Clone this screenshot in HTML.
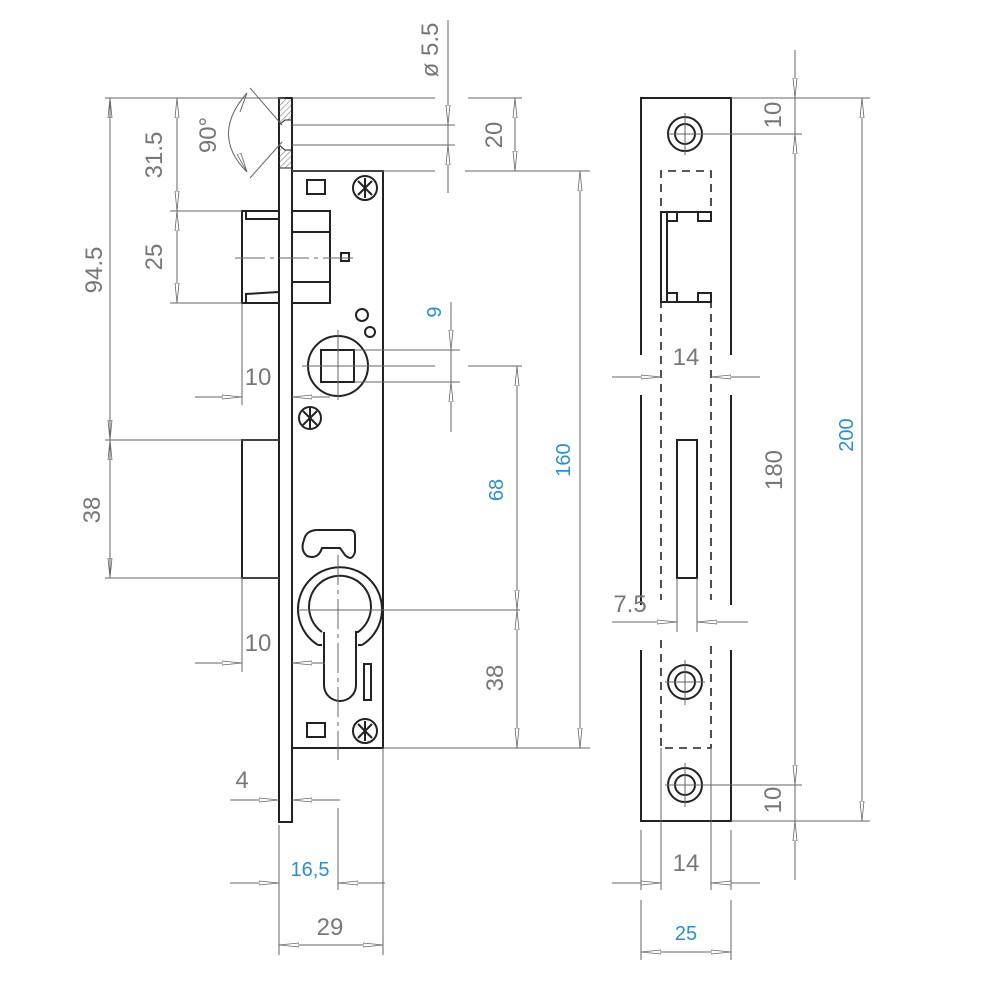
<!DOCTYPE html>
<html><head><meta charset="utf-8"><style>
html,body{margin:0;padding:0;background:#fff}
svg{display:block}
.k{stroke:#222;stroke-width:2;fill:none}
.g{stroke:#666;stroke-width:1;fill:none}
.d{stroke:#222;stroke-width:1.6;fill:none;stroke-dasharray:8 6}
text{font-family:"Liberation Sans",sans-serif;font-size:24px;fill:#777}
.b{fill:#2a8fd0;font-size:20px}
</style></head><body>
<svg width="1000" height="1000" viewBox="0 0 1000 1000" xmlns="http://www.w3.org/2000/svg">
<defs>
<marker id="a" viewBox="0 0 20 6" refX="20" refY="3" markerWidth="20" markerHeight="6" markerUnits="userSpaceOnUse" orient="auto">
<path d="M0,1 L20,3 L0,5 Z" fill="#fff" stroke="#666" stroke-width="0.8"/></marker>
<pattern id="h" width="4" height="4" patternUnits="userSpaceOnUse" patternTransform="rotate(45)"><line x1="0" y1="0" x2="0" y2="4" stroke="#777" stroke-width="1.2"/></pattern>
</defs>

<rect x="279" y="98" width="13" height="724" class="k"/>
<path d="M279,98 H292 V120 H285 L279,125 Z" fill="url(#h)" stroke="#222" stroke-width="1"/>
<path d="M279,145 L285,150 H292 V168 H279 Z" fill="url(#h)" stroke="#222" stroke-width="1"/>
<line x1="292" y1="98" x2="292" y2="168" class="k"/>
<path d="M292,171 H383 V748 H292" class="k"/>
<line x1="292" y1="171" x2="292" y2="383" class="k"/>
<line x1="292" y1="407" x2="292" y2="648" class="k"/>
<line x1="292" y1="680" x2="292" y2="822" class="k"/>
<rect x="242" y="211" width="37" height="92" class="k"/>
<path d="M246,211 V219 H279 M246,303 V294 L279,292" class="k"/>
<path d="M292,211 H330 V303 H292 M292,232 L298,232 H330 M292,282 H330" class="k"/>
<rect x="341" y="253" width="8" height="8" class="k" stroke-width="1.5"/>
<line x1="235" y1="258" x2="355" y2="258" class="g" stroke-dasharray="30 5 4 5"/>
<rect x="242" y="440" width="37" height="138" class="k"/>
<rect x="307" y="180" width="18" height="14" class="k"/>
<rect x="307" y="723" width="18" height="14" class="k"/>
<g class="k" stroke-width="1.8">
<circle cx="365" cy="188" r="12"/><path d="M358,181 L372,195 M372,181 L358,195 M365,178 V198"/>
<circle cx="310" cy="418" r="11"/><path d="M303,411 L317,425 M317,411 L303,425 M310,408 V428"/>
<circle cx="365" cy="731" r="12"/><path d="M358,724 L372,738 M372,724 L358,738 M365,721 V741"/>
</g>
<circle cx="338" cy="366" r="30" class="k"/>
<rect x="321" y="350" width="33" height="32" class="k"/>
<circle cx="362" cy="315" r="6" class="k" stroke-width="1.5"/>
<circle cx="370" cy="332" r="5" class="k" stroke-width="1.5"/>
<line x1="302" y1="366" x2="435" y2="366" class="g"/>
<line x1="338" y1="330" x2="338" y2="400" class="g"/>
<path d="M318,530 H350 Q355,530 355,536 V552 Q352,562 345,555 L340,548 H322 Q318,560 307,556 Q300,550 304,540 Q306,530 318,530 Z" class="k"/>
<path d="M318,645 A42,42 0 1 1 362,645" class="k"/>
<path d="M322,632 A31,31 0 1 1 358,632 L356,632 V685 A16,16 0 0 1 324,685 V632" class="k"/>
<path d="M318,645 L322,645 M358,645 L362,645" class="k"/>
<rect x="364" y="664" width="7" height="36" class="k" stroke-width="1.5"/>
<line x1="298" y1="610" x2="520" y2="610" class="g"/>
<line x1="338" y1="555" x2="338" y2="760" class="g" stroke-dasharray="30 5 4 5"/>
<line x1="338" y1="808" x2="338" y2="890" class="g"/>

<g class="g">
<line x1="105" y1="98" x2="285" y2="98"/>
<line x1="105" y1="440" x2="279" y2="440"/>
<line x1="105" y1="578" x2="279" y2="578"/>
<line x1="170" y1="211" x2="242" y2="211"/>
<line x1="170" y1="303" x2="242" y2="303"/>
<line x1="110" y1="160" x2="110" y2="98" marker-end="url(#a)"/><line x1="110" y1="380" x2="110" y2="440" marker-end="url(#a)"/>
<line x1="110" y1="98" x2="110" y2="440"/>
<line x1="110" y1="480" x2="110" y2="440" marker-end="url(#a)"/><line x1="110" y1="540" x2="110" y2="578" marker-end="url(#a)"/>
<line x1="110" y1="440" x2="110" y2="578"/>
<line x1="177" y1="98" x2="177" y2="303"/>
<line x1="177" y1="140" x2="177" y2="98" marker-end="url(#a)"/><line x1="177" y1="170" x2="177" y2="211" marker-end="url(#a)"/>
<line x1="177" y1="250" x2="177" y2="211" marker-end="url(#a)"/><line x1="177" y1="270" x2="177" y2="303" marker-end="url(#a)"/>
<line x1="250" y1="88" x2="282" y2="125"/><line x1="250" y1="178" x2="282" y2="142"/>
<path d="M247,93 Q210,135 247,172"/>
<path d="M240,112 L247,93 M240,156 L247,172" marker-end="url(#a)"/>
<line x1="242" y1="303" x2="242" y2="405"/>
<line x1="195" y1="397" x2="242" y2="397" marker-end="url(#a)"/><line x1="330" y1="397" x2="292" y2="397" marker-end="url(#a)"/>
<line x1="242" y1="578" x2="242" y2="672"/>
<line x1="195" y1="663" x2="242" y2="663" marker-end="url(#a)"/><line x1="325" y1="663" x2="292" y2="663" marker-end="url(#a)"/>
<line x1="230" y1="800" x2="279" y2="800" marker-end="url(#a)"/><line x1="340" y1="800" x2="292" y2="800" marker-end="url(#a)"/>
<line x1="279" y1="825" x2="279" y2="955"/>
<line x1="230" y1="883" x2="279" y2="883" marker-end="url(#a)"/><line x1="385" y1="883" x2="338" y2="883" marker-end="url(#a)"/>
<line x1="383" y1="748" x2="383" y2="955"/>
<line x1="279" y1="945" x2="383" y2="945"/>
<line x1="310" y1="945" x2="279" y2="945" marker-end="url(#a)"/><line x1="350" y1="945" x2="383" y2="945" marker-end="url(#a)"/>
<line x1="292" y1="98" x2="435" y2="98"/>
<line x1="292" y1="125" x2="455" y2="125"/>
<line x1="292" y1="145" x2="455" y2="145"/>
<line x1="292" y1="171" x2="435" y2="171"/>
<line x1="468" y1="98" x2="522" y2="98"/>
<line x1="465" y1="171" x2="590" y2="171"/>
<line x1="448" y1="20" x2="448" y2="193"/>
<line x1="448" y1="95" x2="448" y2="125" marker-end="url(#a)"/><line x1="448" y1="175" x2="448" y2="145" marker-end="url(#a)"/>
<line x1="515" y1="98" x2="515" y2="171"/>
<line x1="515" y1="130" x2="515" y2="98" marker-end="url(#a)"/><line x1="515" y1="140" x2="515" y2="171" marker-end="url(#a)"/>
<line x1="354" y1="350" x2="460" y2="350"/><line x1="354" y1="382" x2="460" y2="382"/>
<line x1="451" y1="302" x2="451" y2="432"/>
<line x1="451" y1="320" x2="451" y2="350" marker-end="url(#a)"/><line x1="451" y1="412" x2="451" y2="382" marker-end="url(#a)"/>
<line x1="468" y1="366" x2="522" y2="366"/>
<line x1="383" y1="748" x2="590" y2="748"/>
<line x1="517" y1="366" x2="517" y2="748"/>
<line x1="517" y1="400" x2="517" y2="366" marker-end="url(#a)"/><line x1="517" y1="575" x2="517" y2="610" marker-end="url(#a)"/>
<line x1="517" y1="645" x2="517" y2="610" marker-end="url(#a)"/><line x1="517" y1="715" x2="517" y2="748" marker-end="url(#a)"/>
<line x1="580" y1="171" x2="580" y2="748"/>
<line x1="580" y1="205" x2="580" y2="171" marker-end="url(#a)"/><line x1="580" y1="715" x2="580" y2="748" marker-end="url(#a)"/>
</g>

<path d="M641,355 V98 H731 V355" class="k"/>
<path d="M641,395 V605 M731,395 V605" class="k"/>
<path d="M641,650 V821 H731 V650" class="k"/>
<path d="M661,220 V171 H711 V220" class="d"/>
<path d="M661,300 V600 M711,300 V600 M661,640 V748 H711 V640" class="d"/>
<line x1="661" y1="748" x2="661" y2="890" class="g"/><line x1="711" y1="748" x2="711" y2="890" class="g"/>
<rect x="661" y="212" width="6" height="90" class="k"/>
<path d="M667,212 H711 V221 H698 V212 M667,221 H677 V212 M667,302 H711 V293 H698 V302 M667,293 H677 V302" class="k"/>
<rect x="677" y="440" width="20" height="138" class="k"/>
<line x1="677" y1="578" x2="677" y2="632" class="g"/><line x1="697" y1="578" x2="697" y2="632" class="g"/>
<g class="k" stroke-width="1.8">
<circle cx="685" cy="134" r="17"/><circle cx="685" cy="134" r="10"/>
<circle cx="685" cy="682" r="17"/><circle cx="685" cy="682" r="10"/>
<circle cx="685" cy="785" r="17"/><circle cx="685" cy="785" r="10"/>
</g>
<g class="g">
<path d="M668,134 H702 M685,113 V155 M665,682 H705 M685,660 V705 M665,785 H705 M685,763 V807"/>
<line x1="700" y1="134" x2="802" y2="134"/>
<line x1="700" y1="785" x2="802" y2="785"/>
<line x1="731" y1="98" x2="870" y2="98"/>
<line x1="731" y1="821" x2="870" y2="821"/>
<line x1="795" y1="50" x2="795" y2="880"/>
<line x1="795" y1="70" x2="795" y2="98" marker-end="url(#a)"/><line x1="795" y1="160" x2="795" y2="134" marker-end="url(#a)"/>
<line x1="795" y1="755" x2="795" y2="785" marker-end="url(#a)"/><line x1="795" y1="850" x2="795" y2="821" marker-end="url(#a)"/>
<line x1="862" y1="98" x2="862" y2="821"/>
<line x1="862" y1="130" x2="862" y2="98" marker-end="url(#a)"/><line x1="862" y1="790" x2="862" y2="821" marker-end="url(#a)"/>
<line x1="612" y1="377" x2="661" y2="377" marker-end="url(#a)"/><line x1="760" y1="377" x2="711" y2="377" marker-end="url(#a)"/>
<line x1="612" y1="622" x2="677" y2="622" marker-end="url(#a)"/><line x1="748" y1="622" x2="697" y2="622" marker-end="url(#a)"/>
<line x1="641" y1="830" x2="641" y2="890"/><line x1="731" y1="830" x2="731" y2="890"/>
<line x1="612" y1="883" x2="661" y2="883" marker-end="url(#a)"/><line x1="760" y1="883" x2="711" y2="883" marker-end="url(#a)"/>
<line x1="641" y1="900" x2="641" y2="960"/><line x1="731" y1="900" x2="731" y2="960"/>
<line x1="641" y1="952" x2="731" y2="952"/>
<line x1="670" y1="952" x2="641" y2="952" marker-end="url(#a)"/><line x1="700" y1="952" x2="731" y2="952" marker-end="url(#a)"/>
</g>

<text transform="translate(102,270) rotate(-90)" text-anchor="middle">94.5</text>
<text transform="translate(162,155) rotate(-90)" text-anchor="middle">31.5</text>
<text transform="translate(162,257) rotate(-90)" text-anchor="middle">25</text>
<text transform="translate(100,510) rotate(-90)" text-anchor="middle">38</text>
<text transform="translate(216,135) rotate(-90)" text-anchor="middle">90°</text>
<text x="258" y="385" text-anchor="middle">10</text>
<text x="258" y="651" text-anchor="middle">10</text>
<text x="242" y="788" text-anchor="middle">4</text>
<text x="310" y="876" text-anchor="middle" class="b">16,5</text>
<text x="330" y="935" text-anchor="middle">29</text>
<text transform="translate(438,50) rotate(-90)" text-anchor="middle">ø 5.5</text>
<text transform="translate(502,135) rotate(-90)" text-anchor="middle">20</text>
<text transform="translate(441,312) rotate(-90)" text-anchor="middle" class="b">9</text>
<text transform="translate(503,490) rotate(-90)" text-anchor="middle" class="b">68</text>
<text transform="translate(503,678) rotate(-90)" text-anchor="middle">38</text>
<text transform="translate(570,460) rotate(-90)" text-anchor="middle" class="b">160</text>
<text transform="translate(781,115) rotate(-90)" text-anchor="middle">10</text>
<text transform="translate(782,470) rotate(-90)" text-anchor="middle">180</text>
<text transform="translate(781,800) rotate(-90)" text-anchor="middle">10</text>
<text transform="translate(853,435) rotate(-90)" text-anchor="middle" class="b">200</text>
<text x="686" y="365" text-anchor="middle">14</text>
<text x="630" y="612" text-anchor="middle">7.5</text>
<text x="686" y="871" text-anchor="middle">14</text>
<text x="686" y="940" text-anchor="middle" class="b">25</text>
</svg>
</body></html>
